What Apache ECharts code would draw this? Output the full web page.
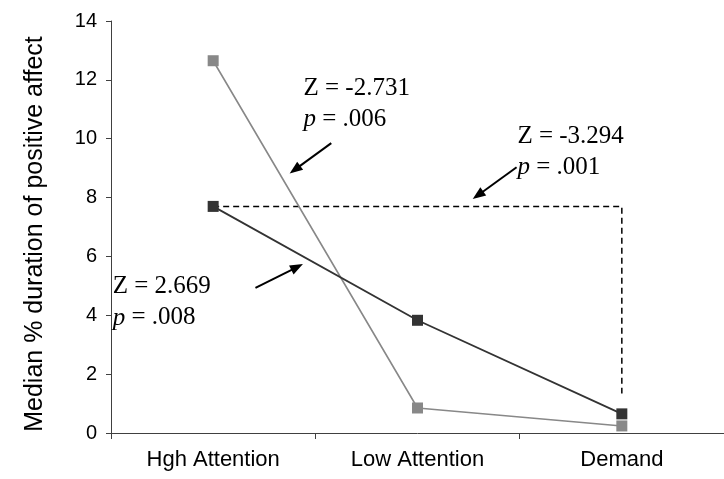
<!DOCTYPE html>
<html>
<head>
<meta charset="utf-8">
<script src="https://cdn.jsdelivr.net/npm/echarts@6/dist/echarts.min.js"></script>
<style>
html,body{margin:0;padding:0;background:#fff;}
#chart{width:724px;height:479px;}
</style>
</head>
<body>
<div id="chart"></div>
<script>
// ---- data ----
const categories = ['Hgh Attention', 'Low Attention', 'Demand'];
const darkSeries = [7.7, 3.83, 0.65];
const graySeries = [12.65, 0.85, 0.24];
const yTicks = [0, 2, 4, 6, 8, 10, 12, 14];
const yAxisTitle = 'Median % duration of positive affect';
// dashed comparison bracket (category position, value)
const bracketPath = [[0, 7.7], [2, 7.7], [2, 1.34]];
// statistics annotations
const statZ = ['Z = -2.731', 'Z = -3.294', 'Z = 2.669'];
const statP = ['.006', '.001', '.008'];

// ---- annotation placement (category position, value) ----
const textAnchors = [[0.442, 12.25], [1.489, 10.61], [-0.492, 5.49]];
const arrows = [
  [[0.578, 9.85], [0.400, 8.95]],
  [[1.485, 9.03], [1.296, 8.08]],
  [[0.207, 4.93], [0.411, 5.64]]
];

const chart = echarts.init(document.getElementById('chart'));
const option = {
  backgroundColor: '#fff',
  animation: false,
  grid: { left: 111, top: 21, width: 618, height: 412, containLabel: false },
  xAxis: [
    {
      type: 'category', data: categories, boundaryGap: true,
      axisLine: { onZero: false, lineStyle: { color: '#404040', width: 1 } },
      axisTick: { show: true, length: 6, lineStyle: { color: '#404040' } },
      axisLabel: { color: '#000', fontFamily: 'Liberation Sans', fontSize: 22, margin: 16 }
    },
    { type: 'value', min: -0.5, max: 2.5, show: false }
  ],
  yAxis: {
    type: 'value', min: 0, max: 14, interval: 2,
    name: yAxisTitle, nameLocation: 'middle', nameGap: 63, nameRotate: 90,
    nameTextStyle: { color: '#000', fontFamily: 'Liberation Sans', fontSize: 25, padding: [0, 14, 0, 0] },
    splitLine: { show: false },
    axisLine: { show: true, onZero: false, lineStyle: { color: '#404040', width: 1 } },
    axisTick: { show: true, length: 5, lineStyle: { color: '#404040' } },
    axisLabel: { color: '#000', fontFamily: 'Liberation Sans', fontSize: 20, margin: 14,
      formatter: v => yTicks.includes(v) ? String(v) : '' }
  },
  series: [
    {
      type: 'line', xAxisIndex: 1, z: 1,
      data: bracketPath, symbol: 'none',
      lineStyle: { color: '#000', width: 1.5, type: [6, 4] },
      markLine: {
        silent: true, symbol: ['none', 'triangle'], symbolSize: [10, 13],
        label: { show: false },
        lineStyle: { color: '#000', width: 2, type: 'solid' },
        data: arrows.map(a => [{ coord: a[0] }, { coord: a[1] }])
      }
    },
    {
      type: 'line', data: graySeries, z: 3,
      symbol: 'rect', symbolSize: 11,
      itemStyle: { color: '#888' },
      lineStyle: { color: '#888', width: 1.6 }
    },
    {
      type: 'line', data: darkSeries, z: 4,
      symbol: 'rect', symbolSize: 11,
      itemStyle: { color: '#333' },
      lineStyle: { color: '#333', width: 1.8 }
    }
  ]
};
chart.setOption(option);

function placeTexts() {
  const els = textAnchors.map((pt, i) => {
    const px = chart.convertToPixel({ xAxisIndex: 1, yAxisIndex: 0 }, pt);
    return {
      type: 'text', x: px[0], y: px[1], z: 10,
      style: {
        text: statZ[i] + '\n{i|p} = ' + statP[i],
        fill: '#000', font: '25px "Liberation Serif"', lineHeight: 31,
        align: 'left', verticalAlign: 'top',
        rich: { i: { fontStyle: 'italic', fontFamily: 'Liberation Serif', fontSize: 25, lineHeight: 31, fill: '#000' } }
      }
    };
  });
  chart.setOption({ graphic: els });
}
placeTexts();
</script>
</body>
</html>
